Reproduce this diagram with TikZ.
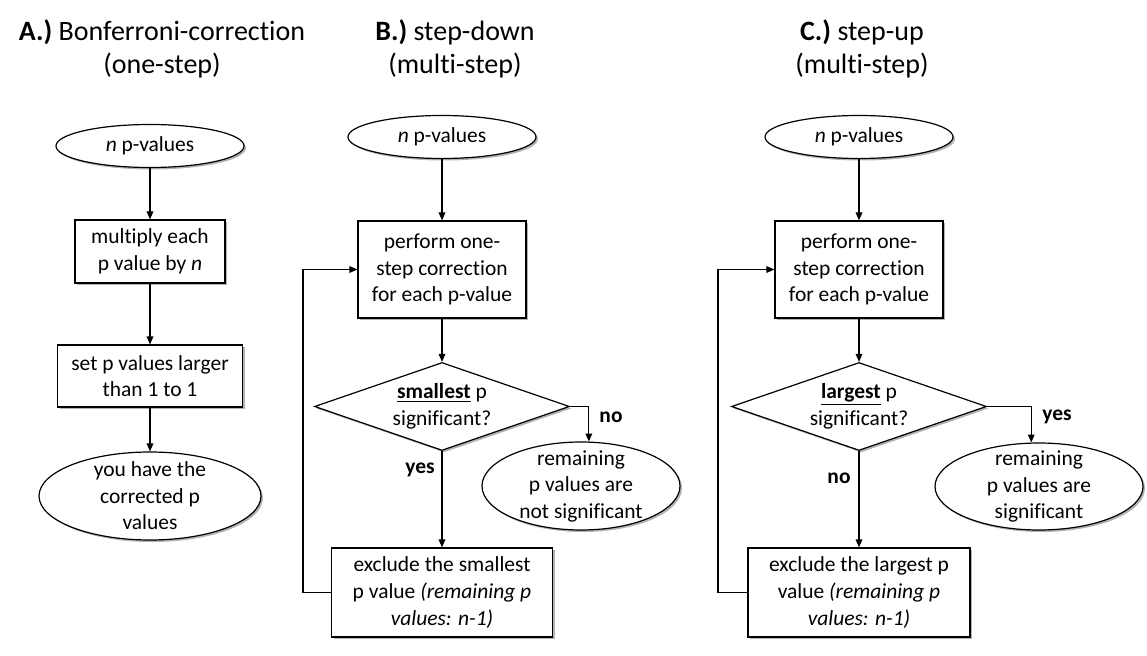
\documentclass[tikz,border=0pt]{standalone}
\usepackage{fontspec}
\setmainfont{Carlito}[Ligatures=NoCommon]
\usetikzlibrary{arrows.meta,shapes.geometric,shadows}

\tikzset{every picture/.style={line width=0.9pt}}
\tikzset{
  txt/.style={font=\fontsize{16.1}{19.9}\selectfont, align=center},
  boxshadow/.style={drop shadow={shadow xshift=1.5pt,shadow yshift=-1.5pt,opacity=0.3,fill=black}},
  procbox/.style={draw, fill=white, rectangle, txt, inner sep=0pt, boxshadow},
  termnode/.style={draw, fill=white, ellipse, txt, inner xsep=0pt, inner ysep=-6pt, boxshadow},
  decide/.style={draw, fill=white, diamond, aspect=2.9, txt, inner sep=-4pt, boxshadow},
  arr/.style={-{Triangle[length=6pt,width=5pt]}},
  lbl/.style={font=\fontsize{16.1}{19.9}\selectfont\bfseries},
  heading/.style={font=\fontsize{21}{24.75}\selectfont, align=center}
}

\begin{document}
\begin{tikzpicture}[x=0.75pt,y=0.75pt,yscale=-1,xscale=1]
\useasboundingbox (0,0) rectangle (1147,656);

% Text Node
\draw (162,48.5) node [heading] (Atitle) {\textbf{A.)} Bonferroni-correction\\(one-step)};
% Text Node
\draw (455,48.5) node [heading] (Btitle) {\textbf{B.)} step-down\\(multi-step)};
% Text Node
\draw (862,48.5) node [heading] (Ctitle) {\textbf{C.)} step-up\\(multi-step)};

%Shape: Ellipse [id:A1]
\draw (150,146) node [termnode, minimum width=141pt, minimum height=32.25pt] (A1) {\textit{n} p-values};
%Shape: Rectangle [id:A2]
\draw (150,251.5) node [procbox, minimum width=112.5pt, minimum height=47.25pt] (A2) {multiply each\\p value by \textit{n}};
%Shape: Rectangle [id:A3]
\draw (150,376) node [procbox, minimum width=138.75pt, minimum height=46.5pt] (A3) {set p values larger\\than 1 to 1};
%Shape: Ellipse [id:A4]
\draw (150,496) node [termnode, minimum width=166.5pt, minimum height=66pt] (A4) {you have the\\corrected p\\values};
%Straight Lines
\draw [arr] (A1) -- (A2);
\draw [arr] (A2) -- (A3);
\draw [arr] (A3) -- (A4);

%Shape: Ellipse [id:B1]
\draw (442,137) node [termnode, minimum width=141pt, minimum height=32.25pt] (B1) {\textit{n} p-values};
%Shape: Rectangle [id:B2]
\draw (442,269.5) node [procbox, minimum width=126pt, minimum height=72.75pt] (B2) {perform one-\\step correction\\for each p-value};
%Shape: Diamond [id:B3]
\draw (442,406.5) node [decide, minimum width=191.25pt, minimum height=66pt] (B3) {\underline{\textbf{smallest}} p\\significant?};
%Shape: Ellipse [id:B4]
\draw (581,486) node [termnode, minimum width=148.5pt, minimum height=66pt] (B4) {remaining\\p values are\\not significant};
%Shape: Rectangle [id:B5]
\draw (442,592.5) node [procbox, minimum width=165.75pt, minimum height=66.75pt] (B5) {exclude the smallest\\p value \textit{(remaining p}\\\textit{values: n-1)}};
% Text Node
\draw (611,417) node [lbl] (Bno) {no};
% Text Node
\draw (420,470) node [lbl] (Byes) {yes};
%Straight Lines
\coordinate (Bloop) at (303,592.5);
\draw [arr] (B1) -- (B2);
\draw [arr] (B2) -- (B3);
\draw [arr] (B3.east) -| (B4.80);
\draw [arr] (B3) -- (B5);
\draw [arr] (B5.west) -- (Bloop) |- (B2.west);

%Shape: Ellipse [id:C1]
\draw (859,137) node [termnode, minimum width=141pt, minimum height=32.25pt] (C1) {\textit{n} p-values};
%Shape: Rectangle [id:C2]
\draw (859,269.5) node [procbox, minimum width=126pt, minimum height=72.75pt] (C2) {perform one-\\step correction\\for each p-value};
%Shape: Diamond [id:C3]
\draw (859,406.5) node [decide, minimum width=191.25pt, minimum height=66pt] (C3) {\underline{\textbf{largest}} p\\significant?};
%Shape: Ellipse [id:C4]
\draw (1039,486.5) node [termnode, minimum width=156pt, minimum height=65.25pt] (C4) {remaining\\p values are\\significant};
%Shape: Rectangle [id:C5]
\draw (859,592.5) node [procbox, minimum width=166.5pt, minimum height=66.75pt] (C5) {exclude the largest p\\value \textit{(remaining p}\\\textit{values: n-1)}};
% Text Node
\draw (1057,417) node [lbl] (Cyes) {yes};
% Text Node
\draw (839,478) node [lbl] (Cno) {no};
%Straight Lines
\coordinate (Cloop) at (718,592.5);
\draw [arr] (C1) -- (C2);
\draw [arr] (C2) -- (C3);
\draw [arr] (C3.east) -| (C4.100);
\draw [arr] (C3) -- (C5);
\draw [arr] (C5.west) -- (Cloop) |- (C2.west);
\end{tikzpicture}
\end{document}
